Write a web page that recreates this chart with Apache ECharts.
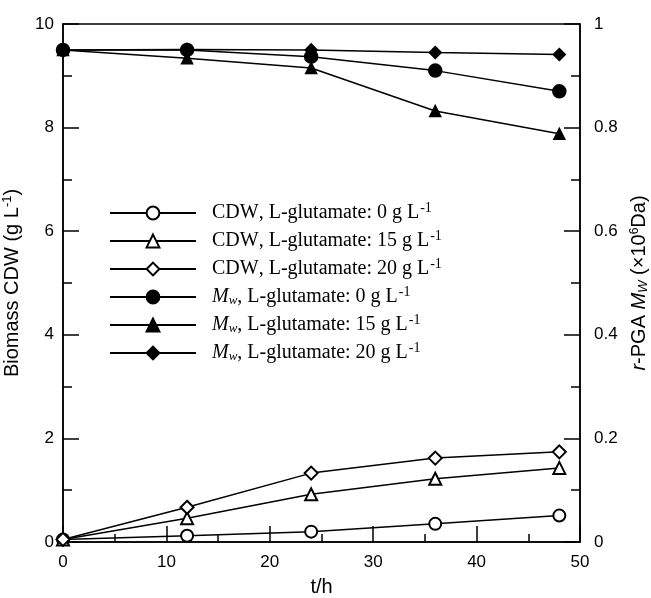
<!DOCTYPE html>
<html lang="en">
<head>
    <meta charset="UTF-8">
    <title>Biomass CDW and r-PGA Mw</title>
    <style>
        * { padding: 0; margin: 0; }
        body, html { width: 100%; height: 100%; background: #fff; }
        #main { width: 651px; height: 598px; }
    </style>
</head>
<body>
    <div id="main"></div>
    <script src="https://cdn.jsdelivr.net/npm/echarts@6/dist/echarts.min.js"></script>
    <script>
        // time points (h)
        var hours = [0, 12, 24, 36, 48];
        // biomass CDW (g/L), left axis
        var cdw0 = [0.05, 0.12, 0.2, 0.35, 0.51];
        var cdw15 = [0.05, 0.46, 0.92, 1.22, 1.43];
        var cdw20 = [0.05, 0.67, 1.33, 1.62, 1.74];
        // r-PGA Mw (x10^6 Da), right axis
        var mw0 = [0.95, 0.95, 0.937, 0.91, 0.87];
        var mw15 = [0.95, 0.934, 0.915, 0.832, 0.788];
        var mw20 = [0.95, 0.951, 0.95, 0.945, 0.941];

        function pairs(vals) {
            return hours.map(function (t, i) { return [t, vals[i]]; });
        }

        var serif = '"Liberation Serif", "Times New Roman", serif';
        var sans = '"Liberation Sans", Arial, sans-serif';

        function makeSeries(name, vals, symbol, size, axis) {
            return {
                name: name,
                type: 'line',
                yAxisIndex: axis,
                symbol: symbol,
                symbolSize: size,
                showAllSymbol: true,
                lineStyle: { color: '#000', width: 1.5 },
                itemStyle: { color: '#000', borderColor: '#000', borderWidth: 1.5 },
                emphasis: { disabled: true },
                data: pairs(vals)
            };
        }

        var myChart = echarts.init(document.getElementById('main'));

        var option = {
            backgroundColor: '#fff',
            animation: false,
            grid: {
                left: 63, right: 71, top: 24, bottom: 56,
                outerBoundsMode: 'none',
                show: true, borderColor: '#000', borderWidth: 1.5
            },
            legend: {
                left: 104,
                top: 196,
                orient: 'vertical',
                itemWidth: 86,
                itemHeight: 16,
                itemGap: 4,
                selectedMode: false,
                formatter: function (name) {
                    var p = name.split('|');
                    if (p[0] === 'CDW') {
                        return '{f|CDW}{t|, L-glutamate: ' + p[1] + ' g L}{s|-1}';
                    }
                    return '{i|M}{w|w}{t|, L-glutamate: ' + p[1] + ' g L}{s|-1}';
                },
                textStyle: {
                    fontFamily: serif, fontSize: 20, color: '#000',
                    rich: {
                        f: { fontFamily: serif, fontSize: 20, color: '#000', lineHeight: 16, padding: [0, 0, 0, 11] },
                        t: { fontFamily: serif, fontSize: 20, color: '#000', lineHeight: 16 },
                        i: { fontFamily: serif, fontSize: 20, fontStyle: 'italic', color: '#000', lineHeight: 16, padding: [0, 0, 0, 11] },
                        w: { fontFamily: serif, fontSize: 13, fontStyle: 'italic', color: '#000', lineHeight: 12, padding: [8, 0, 0, 0] },
                        s: { fontFamily: serif, fontSize: 14, color: '#000', lineHeight: 12, padding: [0, 0, 10, 1] }
                    }
                },
                data: ['CDW|0', 'CDW|15', 'CDW|20', 'Mw|0', 'Mw|15', 'Mw|20']
            },
            xAxis: {
                type: 'value',
                min: 0, max: 50, interval: 10,
                name: 't/h',
                nameLocation: 'middle',
                nameGap: 35,
                nameTextStyle: { fontFamily: sans, fontSize: 20, color: '#000' },
                axisLine: { lineStyle: { color: '#000', width: 1.5 } },
                axisTick: { inside: true, length: 16, lineStyle: { color: '#000', width: 1.5 } },
                minorTick: { show: true, splitNumber: 2, length: 8, lineStyle: { color: '#000', width: 1.5 } },
                axisLabel: { fontFamily: sans, fontSize: 17, color: '#000', margin: 12 },
                splitLine: { show: false }
            },
            yAxis: [{
                type: 'value',
                min: 0, max: 10, interval: 2,
                name: '{a|Biomass CDW (g L}{s|-1}{a|)}',
                nameLocation: 'middle',
                nameGap: 35,
                nameRotate: 90,
                nameTextStyle: {
                    rich: {
                        a: { fontFamily: sans, fontSize: 20, color: '#000', lineHeight: 20 },
                        s: { fontFamily: sans, fontSize: 13, color: '#000', lineHeight: 10, padding: [0, 0, 10, 0] }
                    }
                },
                axisLine: { show: true, lineStyle: { color: '#000', width: 1.5 } },
                axisTick: { show: true, inside: true, length: 16, lineStyle: { color: '#000', width: 1.5 } },
                minorTick: { show: true, splitNumber: 2, length: 9, lineStyle: { color: '#000', width: 1.5 } },
                axisLabel: { fontFamily: sans, fontSize: 17, color: '#000', margin: 9 },
                splitLine: { show: false }
            }, {
                type: 'value',
                position: 'right',
                min: 0, max: 1, interval: 0.2,
                name: '{i|r}{a|-PGA }{i|M}{w|W}{a| (×10}{s|6}{a|Da)}',
                nameLocation: 'middle',
                nameGap: 46,
                nameRotate: 90,
                nameTextStyle: {
                    rich: {
                        a: { fontFamily: sans, fontSize: 20, color: '#000', lineHeight: 20 },
                        i: { fontFamily: sans, fontSize: 20, fontStyle: 'italic', color: '#000', lineHeight: 20 },
                        w: { fontFamily: sans, fontSize: 13, fontStyle: 'italic', color: '#000', lineHeight: 10, padding: [8, 0, 0, 0] },
                        s: { fontFamily: sans, fontSize: 12, color: '#000', lineHeight: 10, padding: [0, 0, 10, 0] }
                    }
                },
                axisLine: { show: true, lineStyle: { color: '#000', width: 1.5 } },
                axisTick: { show: true, inside: true, length: 16, lineStyle: { color: '#000', width: 1.5 } },
                minorTick: { show: true, splitNumber: 2, length: 9, lineStyle: { color: '#000', width: 1.5 } },
                axisLabel: { fontFamily: sans, fontSize: 17, color: '#000', margin: 14 },
                splitLine: { show: false }
            }],
            series: [
                makeSeries('CDW|0', cdw0, 'emptyCircle', 12, 0),
                makeSeries('CDW|15', cdw15, 'emptyTriangle', 12, 0),
                makeSeries('CDW|20', cdw20, 'emptyDiamond', 13, 0),
                makeSeries('Mw|0', mw0, 'circle', 13, 1),
                makeSeries('Mw|15', mw15, 'triangle', 11, 1),
                makeSeries('Mw|20', mw20, 'diamond', 12, 1)
            ]
        };
        myChart.setOption(option);
    </script>
</body>
</html>
